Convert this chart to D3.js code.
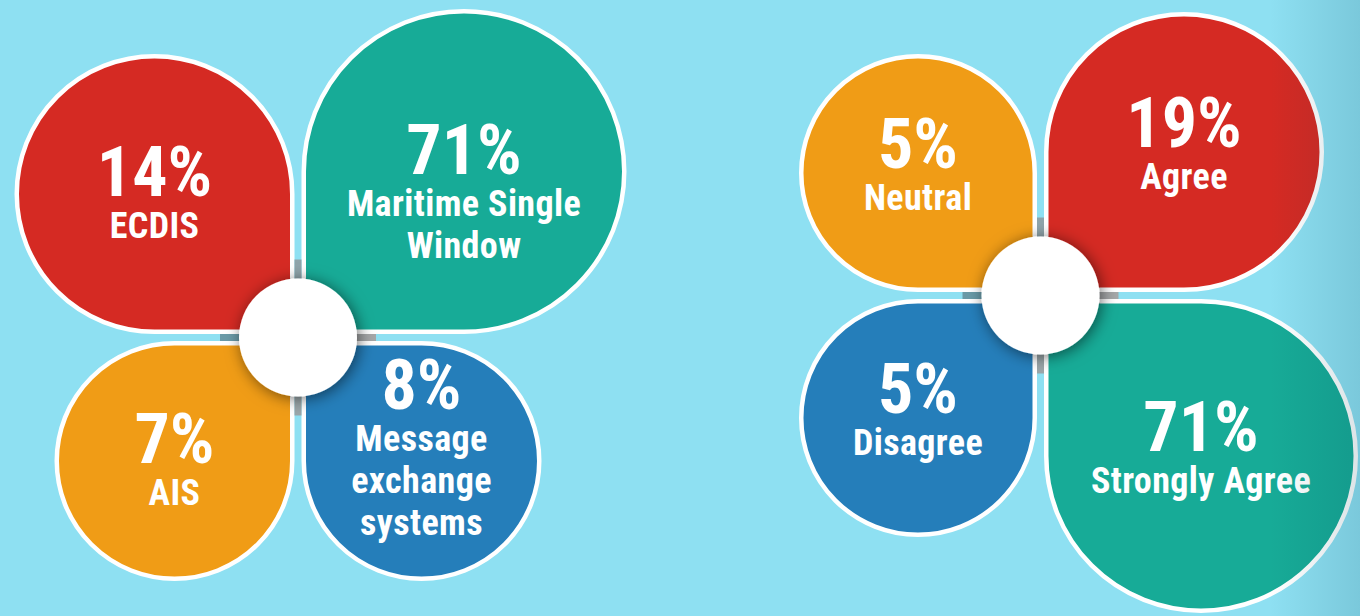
<!DOCTYPE html>
<html>
<head>
<meta charset="utf-8">
<script src="https://cdn.jsdelivr.net/npm/d3@7"></script>
<style>
  body { margin: 0; background: #8ee0f2; }
  svg { display: block; }
  .petal-text { font-family: "Liberation Sans Narrow", "Arial Narrow", "Roboto Condensed", "DejaVu Sans Condensed", sans-serif; font-weight: bold; fill: #fff; }
</style>
</head>
<body>
<svg id="chart"></svg>
<script>
// survey answers, petal order: top-left, top-right, bottom-left, bottom-right
const toolLabels = [["ECDIS"], ["Maritime Single", "Window"], ["AIS"], ["Message", "exchange", "systems"]];
const toolValues = [14, 71, 7, 8];
const toolColors = ["#d52a23", "#17ab97", "#f09c16", "#257eba"];

const agreeLabels = [["Neutral"], ["Agree"], ["Disagree"], ["Strongly Agree"]];
const agreeValues = [5, 19, 5, 71];
const agreeColors = ["#f09c16", "#d52a23", "#257eba", "#17ab97"];

const width = 1360, height = 616;
const quadrants = ["tl", "tr", "bl", "br"];
const gapHalf = 3.5, strokeW = 4.5, hubR = 59, armLen = 78;

const svg = d3.select("#chart").attr("width", width).attr("height", height);

const defs = svg.append("defs");
const shadow = defs.append("filter").attr("id", "hubShadow")
  .attr("x", "-50%").attr("y", "-50%").attr("width", "200%").attr("height", "200%");
shadow.append("feDropShadow")
  .attr("dx", 2).attr("dy", 2).attr("stdDeviation", 8)
  .attr("flood-color", "#000").attr("flood-opacity", 0.55);

const edge = defs.append("linearGradient").attr("id", "edgeShade")
  .attr("x1", "0%").attr("x2", "100%");
edge.append("stop").attr("offset", "0%").attr("stop-color", "#00384f").attr("stop-opacity", 0);
edge.append("stop").attr("offset", "100%").attr("stop-color", "#00384f").attr("stop-opacity", 0.14);

svg.append("rect").attr("width", width).attr("height", height).attr("fill", "#8ee0f2");

// teardrop: square corner at origin, round everywhere else (drawn as top-left, flipped for others)
function petalPath(s) {
  const r = s / 2;
  const p = d3.path();
  p.moveTo(0, 0);
  p.lineTo(0, -r);
  p.arc(-r, -r, r, 0, -1.5 * Math.PI, true);
  p.closePath();
  return p.toString();
}

const flip = { tl: [1, 1], tr: [-1, 1], bl: [1, -1], br: [-1, -1] };

function drawFlower(cfg) {
  const size = d3.scaleThreshold().domain([10, 50]).range(cfg.sizes);
  const color = d3.scaleOrdinal().domain(cfg.labels.map(l => l.join(" "))).range(cfg.colors);

  const data = cfg.values.map((v, i) => ({
    value: v, lines: cfg.labels[i], key: cfg.labels[i].join(" "), q: quadrants[i]
  }));

  const g = svg.append("g").attr("transform", `translate(${cfg.cx},${cfg.cy})`);
  const off = gapHalf + strokeW / 2;

  g.selectAll(".petal")
    .data(data)
    .join("path")
    .attr("class", "petal")
    .attr("transform", d => {
      const [fx, fy] = flip[d.q];
      return `translate(${-fx * off},${-fy * off}) scale(${fx},${fy})`;
    })
    .attr("d", d => petalPath(size(d.value) - strokeW))
    .attr("fill", d => color(d.key))
    .attr("stroke", "#fff")
    .attr("stroke-width", strokeW);

  // little grey arms of the hub, sitting in the gaps
  const arms = [
    { x: -armLen, y: -gapHalf, w: armLen, h: gapHalf * 2, c: "#6a9aa7" },
    { x: -gapHalf, y: -armLen, w: gapHalf * 2, h: armLen, c: "#8fa4aa" },
    { x: 0, y: -gapHalf, w: armLen, h: gapHalf * 2, c: "#a5a7a8" },
    { x: -gapHalf, y: 0, w: gapHalf * 2, h: armLen, c: "#9aa6a9" }
  ];
  g.selectAll(".arm")
    .data(arms)
    .join("rect")
    .attr("class", "arm")
    .attr("x", d => d.x).attr("y", d => d.y)
    .attr("width", d => d.w).attr("height", d => d.h)
    .attr("fill", d => d.c);

  g.append("circle")
    .attr("r", hubR)
    .attr("fill", "#fff")
    .attr("filter", "url(#hubShadow)");

  const labels = g.selectAll(".label")
    .data(data)
    .join("text")
    .attr("class", "label petal-text")
    .attr("text-anchor", "middle")
    .attr("transform", d => {
      const [fx, fy] = flip[d.q];
      const r = size(d.value) / 2;
      const px = -fx * (gapHalf + r);
      const py = -fy * (gapHalf + r);
      const lift = Math.max(0, d.lines.length - 2) * 54;
      return `translate(${px},${py - lift + cfg.textDy})`;
    });

  labels.append("tspan")
    .attr("x", 0)
    .attr("y", 0)
    .style("font-size", "70px")
    .text(d => d.value + "%");

  labels.selectAll(".line")
    .data(d => d.lines)
    .join("tspan")
    .attr("class", "line")
    .attr("x", 0)
    .attr("y", (d, i) => 42 + i * 42)
    .style("font-size", "36px")
    .style("letter-spacing", "0.4px")
    .text(d => d);
}

drawFlower({ cx: 298, cy: 337.5, values: toolValues, labels: toolLabels, colors: toolColors, sizes: [240, 280, 325], textDy: 2 });
drawFlower({ cx: 1040.5, cy: 295.5, values: agreeValues, labels: agreeLabels, colors: agreeColors, sizes: [238, 280, 314], textDy: -5 });

// darker band on the right edge
svg.append("rect")
  .attr("x", 1270).attr("y", 0)
  .attr("width", width - 1270).attr("height", height)
  .attr("fill", "url(#edgeShade)")
  .attr("pointer-events", "none");
</script>
</body>
</html>
